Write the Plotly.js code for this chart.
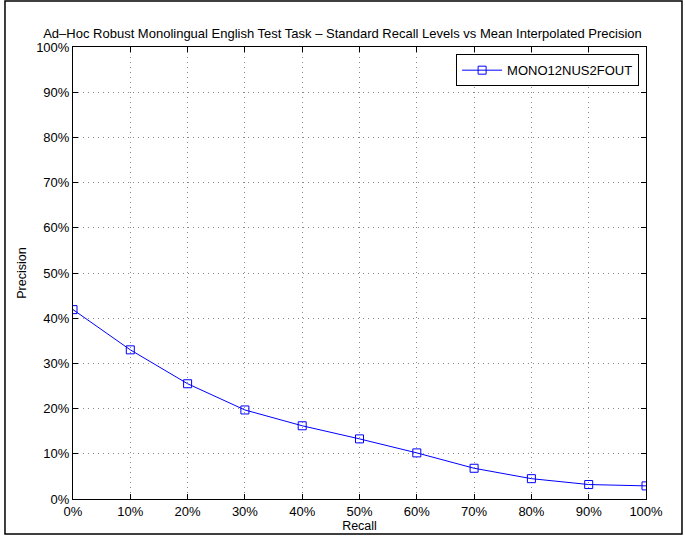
<!DOCTYPE html>
<html><head><meta charset="utf-8">
<script src="https://cdn.plot.ly/plotly-3.0.1.min.js"></script>
<style>body{margin:0;background:#fff}#c{width:685px;height:536px}</style>
</head><body><div id="c"></div>
<script>
const recall = [0, 0.1, 0.2, 0.3, 0.4, 0.5, 0.6, 0.7, 0.8, 0.9, 1.0];
const precision = [0.419, 0.330, 0.255, 0.197, 0.162, 0.133, 0.102, 0.068, 0.045, 0.032, 0.029];
const runName = "MONO12NUS2FOUT";
const tickVals = [0,0.1,0.2,0.3,0.4,0.5,0.6,0.7,0.8,0.9,1.0];
const tickText = ["0%","10%","20%","30%","40%","50%","60%","70%","80%","90%","100%"];

const font = {family: "Liberation Sans, Arial, sans-serif", size: 13, color: "#000"};
const titleFont = {family: "Liberation Sans, Arial, sans-serif", size: 12.5, color: "#000"};
const axisCommon = {
  range: [0, 1], tickvals: tickVals, ticktext: tickText,
  showline: true, linecolor: "#000", linewidth: 1, mirror: "ticks",
  ticks: "inside", ticklen: 5, tickcolor: "#000",
  showgrid: true, gridcolor: "#8a8a8a", griddash: "1px,4px", gridwidth: 1,
  zeroline: false, tickfont: font, fixedrange: true
};
Plotly.newPlot("c", [{
  x: recall, y: precision, type: "scatter", mode: "lines+markers", name: runName,
  line: {color: "#0000ff", width: 1},
  marker: {symbol: "square-open", size: 8, color: "#0000ff", line: {width: 1}}
}], {
  width: 685, height: 536,
  margin: {l: 73, r: 39, t: 47, b: 37},
  paper_bgcolor: "#fff", plot_bgcolor: "#fff",
  font: font,
  title: {text: "Ad\u2013Hoc Robust Monolingual English Test Task \u2013 Standard Recall Levels vs Mean Interpolated Precision",
          font: {family: font.family, size: 13, color: "#000"}, x: 0.5, xanchor: "center", y: 1 - 33/536, yanchor: "middle"},
  xaxis: Object.assign({}, axisCommon, {title: {text: "Recall", font: titleFont, standoff: 2}}),
  yaxis: Object.assign({}, axisCommon, {title: {text: "Precision", font: titleFont, standoff: 6}}),
  showlegend: true,
  legend: {x: 0.988, y: 0.984, xanchor: "right", yanchor: "top", bgcolor: "#fff",
           bordercolor: "#000", borderwidth: 1, font: font, itemwidth: 40},
  shapes: [{type: "rect", xref: "paper", yref: "paper", x0: -0.1187, x1: 1.0628, y0: -0.0774, y1: 1.1018,
            line: {color: "#000", width: 1.5}, layer: "below"}]
}, {displayModeBar: false, staticPlot: true});
</script></body></html>
